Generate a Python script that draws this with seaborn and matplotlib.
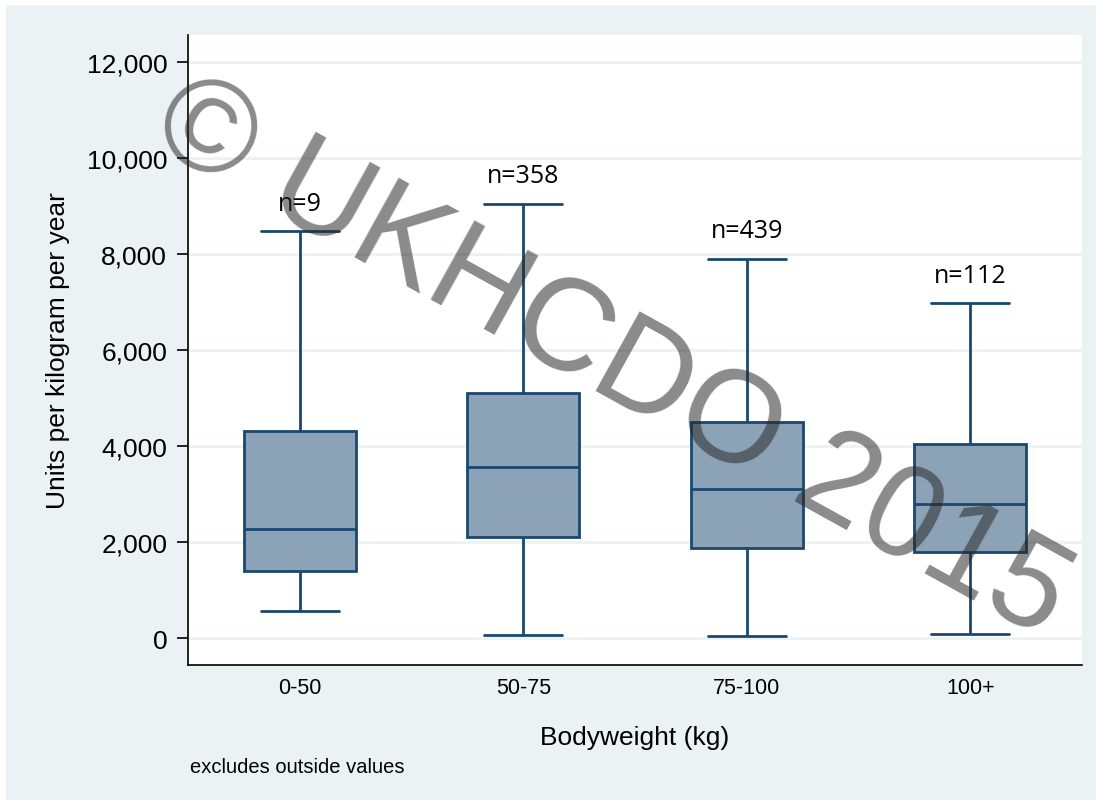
import pandas as pd
import seaborn as sns
import matplotlib.pyplot as plt
from matplotlib.patches import Rectangle

# five-number summaries (units per kg per year)
categories = ["0-50", "50-75", "75-100", "100+"]
whisker_low = [560, 60, 40, 80]
q1 = [1400, 2100, 1880, 1790]
median = [2270, 3560, 3100, 2790]
q3 = [4310, 5110, 4510, 4050]
whisker_high = [8470, 9050, 7900, 6980]
n_labels = ["n=9", "n=358", "n=439", "n=112"]

# long table: the five summary values per group give the same box
rows = []
for i, cat in enumerate(categories):
    for v in [whisker_low[i], q1[i], median[i], q3[i], whisker_high[i]]:
        rows.append({"Bodyweight (kg)": cat, "units": v})
df = pd.DataFrame(rows)

sns.set_style("white")
plt.rcParams["font.family"] = ["Liberation Sans", "DejaVu Sans"]
plt.rcParams["text.color"] = "black"
plt.rcParams["axes.labelcolor"] = "black"
plt.rcParams["xtick.color"] = "black"
plt.rcParams["ytick.color"] = "black"

fill = "#8CA3B7"
edge = "#1A476F"
bg = "#EAF2F3"

fig = plt.figure(figsize=(10.96, 8.04), dpi=100, facecolor="white")
# stata style graph region
fig.patches.append(Rectangle((6 / 1096, 0.004), 1 - 6 / 1096, 1 - 6 / 804 - 0.004,
                             transform=fig.transFigure, facecolor=bg,
                             edgecolor="none", zorder=-10))
ax = fig.add_axes([188 / 1096, 138 / 804, 894 / 1096, 630 / 804])
ax.set_facecolor("white")

sns.boxplot(
    data=df, x="Bodyweight (kg)", y="units", order=categories,
    color=fill, saturation=1, width=0.5, whis=(0, 100),
    linecolor=edge, linewidth=2.0, showfliers=False,
    capwidths=0.35, ax=ax,
)

for i, lab in enumerate(n_labels):
    ax.text(i, whisker_high[i] + 580, lab, ha="center", va="center",
            fontsize=18, family=["Open Sans", "DejaVu Sans"], color="black")

ax.set_ylim(-562, 12562)
ax.set_xlim(-0.5, 3.5)
ax.set_yticks(range(0, 12001, 2000))
ax.set_yticklabels([f"{v:,}" for v in range(0, 12001, 2000)], fontsize=19)
ax.tick_params(axis="y", length=8, width=1.2, color="black", pad=7, left=True)
ax.tick_params(axis="x", length=0, pad=9, labelsize=15.5)
ax.yaxis.grid(True, color=bg, linewidth=2)
ax.set_axisbelow(True)

for s in ["top", "right"]:
    ax.spines[s].set_visible(False)
for s in ["left", "bottom"]:
    ax.spines[s].set_color("black")
    ax.spines[s].set_linewidth(1.2)

ax.set_xlabel("Bodyweight (kg)", fontsize=19, labelpad=19)
ax.set_ylabel("Units per kilogram per year", fontsize=19, labelpad=12)

fig.text(190 / 1096, 1 - 768 / 804, "excludes outside values", fontsize=14.5,
         ha="left", va="center")

# watermark
fig.text(0.558, 0.5525, "\u00a9 UKHCDO 2015", fontsize=94, color="#272727",
         alpha=0.54, rotation=-29, rotation_mode="anchor",
         ha="center", va="center", zorder=10)

fig.savefig("out.png", dpi=100, facecolor=fig.get_facecolor())
